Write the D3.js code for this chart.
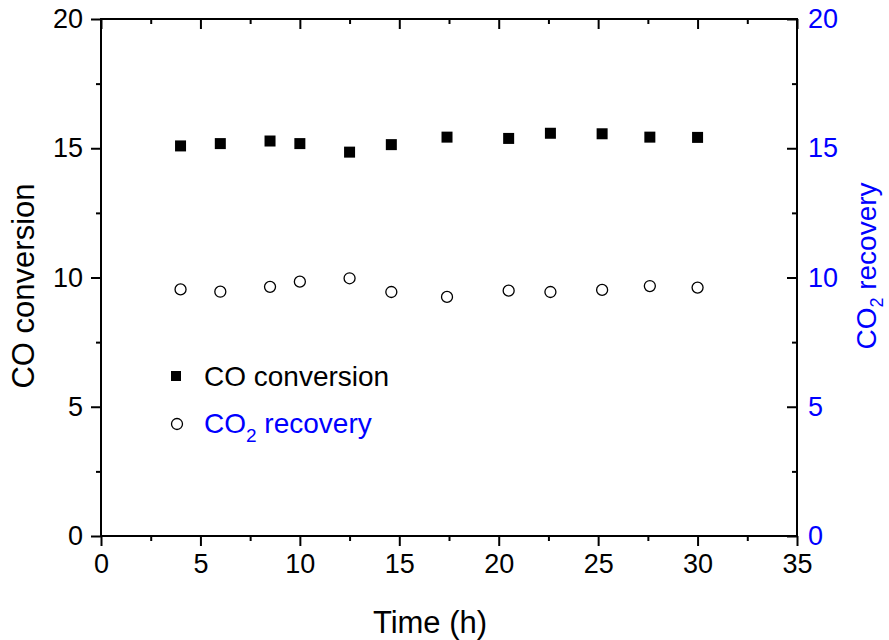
<!DOCTYPE html>
<html>
<head>
<meta charset="utf-8">
<script src="https://cdn.jsdelivr.net/npm/d3@7"></script>
<style>
  body { margin: 0; background: #fff; }
  text { font-family: Arial, "Liberation Sans", sans-serif; }
</style>
</head>
<body>
<script>
// data
const time = [4, 6, 8.5, 10, 12.5, 14.6, 17.4, 20.5, 22.6, 25.2, 27.6, 30];
const coConversion = [15.09, 15.18, 15.28, 15.18, 14.85, 15.14, 15.43, 15.38, 15.58, 15.56, 15.43, 15.42];
const co2Recovery = [9.54, 9.45, 9.64, 9.84, 9.97, 9.44, 9.25, 9.49, 9.44, 9.52, 9.67, 9.61];
const xTicks = [0, 5, 10, 15, 20, 25, 30, 35];
const yTicks = [0, 5, 10, 15, 20];

var W = 889, H = 640;
var margin = { top: 19, left: 101, right: 92, bottom: 104 };
var width = W - margin.left - margin.right,
    height = H - margin.top - margin.bottom;
var blue = '#0000ff';

var svg = d3.select('body').append('svg')
    .attr('width', W).attr('height', H);
var g = svg.append('g')
    .attr('transform', 'translate(' + margin.left + ',' + margin.top + ')');

var x = d3.scaleLinear().domain([0, 35]).range([0, width]);
var y = d3.scaleLinear().domain([0, 20]).range([height, 0]);
var y2 = d3.scaleLinear().domain([0, 20]).range([height, 0]);

var minorX = d3.range(2.5, 35, 5);
var minorY = d3.range(2.5, 20, 5);

function styleAxis(sel, color) {
    sel.selectAll('.domain').remove();
    sel.selectAll('line').attr('stroke', '#000').attr('stroke-width', 2);
    sel.selectAll('text').attr('font-size', 27).attr('fill', color || '#000');
}

// bottom
g.append('g').attr('transform', 'translate(0,' + height + ')')
    .call(d3.axisBottom(x).tickValues(xTicks).tickSize(10).tickPadding(8))
    .call(styleAxis);
g.append('g').attr('transform', 'translate(0,' + height + ')')
    .call(d3.axisBottom(x).tickValues(minorX).tickSize(5).tickFormat(''))
    .call(styleAxis);
// top (inward)
g.append('g')
    .call(d3.axisTop(x).tickValues(xTicks).tickSize(-10).tickFormat(''))
    .call(styleAxis);
g.append('g')
    .call(d3.axisTop(x).tickValues(minorX).tickSize(-5).tickFormat(''))
    .call(styleAxis);
// left
g.append('g')
    .call(d3.axisLeft(y).tickValues(yTicks).tickSize(10).tickPadding(8))
    .call(styleAxis);
g.append('g')
    .call(d3.axisLeft(y).tickValues(minorY).tickSize(5).tickFormat(''))
    .call(styleAxis);
// right (inward)
g.append('g').attr('transform', 'translate(' + width + ',0)')
    .call(d3.axisRight(y2).tickValues(yTicks).tickSize(-10).tickPadding(11))
    .call(function(s) { styleAxis(s, blue); });
g.append('g').attr('transform', 'translate(' + width + ',0)')
    .call(d3.axisRight(y2).tickValues(minorY).tickSize(-5).tickFormat(''))
    .call(styleAxis);

// frame
g.append('rect')
    .attr('width', width).attr('height', height)
    .attr('fill', 'none').attr('stroke', '#000').attr('stroke-width', 2);

// squares
var sq = 11;
g.selectAll('rect.pt')
    .data(time)
    .enter().append('rect')
    .attr('class', 'pt')
    .attr('x', function(d) { return x(d) - sq / 2; })
    .attr('y', function(d, i) { return y(coConversion[i]) - sq / 2; })
    .attr('width', sq).attr('height', sq)
    .attr('fill', '#000');

// circles
g.selectAll('circle.pt')
    .data(time)
    .enter().append('circle')
    .attr('class', 'pt')
    .attr('cx', function(d) { return x(d); })
    .attr('cy', function(d, i) { return y2(co2Recovery[i]); })
    .attr('r', 5.5)
    .attr('fill', 'none').attr('stroke', '#000').attr('stroke-width', 1.3);

// legend
svg.append('rect').attr('x', 171).attr('y', 371).attr('width', 10).attr('height', 10).attr('fill', '#000');
svg.append('text').attr('x', 204).attr('y', 386).attr('font-size', 28).text('CO conversion');
svg.append('circle').attr('cx', 177).attr('cy', 424).attr('r', 5.5)
    .attr('fill', 'none').attr('stroke', '#000').attr('stroke-width', 1.3);
var lt = svg.append('text').attr('x', 204).attr('y', 433).attr('font-size', 28).attr('fill', blue);
lt.append('tspan').text('CO');
lt.append('tspan').attr('font-size', 19).attr('dy', 9).text('2');
lt.append('tspan').attr('dy', -9).text(' recovery');

// axis titles
svg.append('text').attr('x', 430).attr('y', 633)
    .attr('text-anchor', 'middle').attr('font-size', 31).text('Time (h)');
svg.append('text')
    .attr('transform', 'translate(34,286) rotate(-90)')
    .attr('text-anchor', 'middle').attr('font-size', 31).text('CO conversion');
var rt = svg.append('text')
    .attr('transform', 'translate(876,266) rotate(-90)')
    .attr('text-anchor', 'middle').attr('font-size', 28).attr('fill', blue);
rt.append('tspan').text('CO');
rt.append('tspan').attr('font-size', 18).attr('dy', 7).text('2');
rt.append('tspan').attr('dy', -7).text(' recovery');
</script>
</body>
</html>
